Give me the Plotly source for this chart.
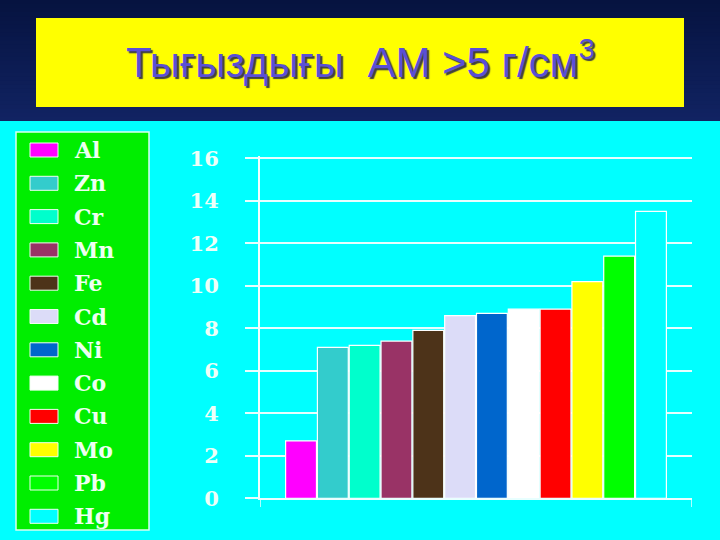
import plotly.graph_objects as go

# ---- data ----
elements = ["Al", "Zn", "Cr", "Mn", "Fe", "Cd", "Ni", "Co", "Cu", "Mo", "Pb", "Hg"]
density = [2.7, 7.1, 7.2, 7.4, 7.9, 8.6, 8.7, 8.9, 8.9, 10.2, 11.4, 13.5]
colors = ["#ff00ff", "#33cccc", "#00ffcc", "#993366", "#4d3319", "#dcdcf8",
          "#0066cc", "#ffffff", "#ff0000", "#ffff00", "#00ff00", "#00ffff"]
y_ticks = [0, 2, 4, 6, 8, 10, 12, 14, 16]
title_text = "Тығыздығы  АМ >5 г/см<sup>3</sup>"

W, H = 720, 540
def py(v):
    return 1 - v / H
def px(v):
    return v / W

x_pos = list(range(len(elements)))
pad = 0.79
x_range = [x_pos[0] - 0.5 - pad, x_pos[-1] + 0.5 + pad]

fig = go.Figure()
for xi, name, val, col in zip(x_pos, elements, density, colors):
    fig.add_trace(go.Bar(
        x=[xi], y=[val], name=name, marker=dict(color=col, line=dict(color="white", width=1.2)),
        width=0.97, showlegend=False, hovertext=name))

shapes = []
# navy header band (smooth vertical gradient; each strip runs to the band bottom)
band_h = 121
top_rgb, bot_rgb = (6, 19, 64), (17, 35, 98)
n = 30
for i in range(n):
    t = i / (n - 1)
    c = "rgb(%d,%d,%d)" % tuple(round(a + (b - a) * t) for a, b in zip(top_rgb, bot_rgb))
    shapes.append(dict(type="rect", xref="paper", yref="paper", layer="below",
                       x0=0, x1=1, y0=py(band_h), y1=py(band_h * i / n),
                       fillcolor=c, line=dict(width=0)))
# yellow title box
shapes.append(dict(type="rect", xref="paper", yref="paper", layer="below",
                   x0=px(36), x1=px(684), y0=py(107), y1=py(18),
                   fillcolor="#ffff00", line=dict(width=0)))
# legend box
shapes.append(dict(type="rect", xref="paper", yref="paper", layer="below",
                   x0=px(16), x1=px(149), y0=py(530), y1=py(132),
                   fillcolor="#00ee00", line=dict(color="#d8fff0", width=1.5)))

annotations = [dict(text=title_text, xref="paper", yref="paper", x=0.5, y=py(59),
                    xanchor="center", yanchor="middle", showarrow=False,
                    font=dict(family="Liberation Sans, Arial", size=42, color="#5a4fd6",
                              shadow="2px 2px 1px #404040"))]

leg_top, leg_step = 150, 33.3
for i, (name, col) in enumerate(zip(elements, colors)):
    cy = leg_top + i * leg_step
    shapes.append(dict(type="rect", xref="paper", yref="paper",
                       x0=px(30), x1=px(58), y0=py(cy + 7), y1=py(cy - 7),
                       fillcolor=col, line=dict(color="#f0fff0", width=1)))
    annotations.append(dict(text="<b>%s</b>" % name, xref="paper", yref="paper",
                            x=px(72), y=py(cy), xanchor="left", yanchor="middle",
                            showarrow=False,
                            font=dict(family="DejaVu Serif", size=22, color="#eefff2")))

# small end ticks below the floor line
for xv in x_range:
    shapes.append(dict(type="line", xref="x", yref="paper", x0=xv, x1=xv,
                       y0=py(498), y1=py(507), line=dict(color="#e8ffff", width=1.5)))

y_top_extra = 0.1
fig.update_layout(
    template="none",
    width=W, height=H, margin=dict(l=0, r=0, t=0, b=0, pad=0, autoexpand=False),
    paper_bgcolor="#00ffff", plot_bgcolor="#00ffff",
    bargap=0.03, shapes=shapes, annotations=annotations,
    xaxis=dict(domain=[px(260), px(692)], range=x_range, showticklabels=False,
               showgrid=False, zeroline=False, showline=True, linecolor="#e8ffff",
               linewidth=2, ticks="", automargin=False),
    yaxis=dict(domain=[py(498.3), py(158.3 - y_top_extra * 21.25)],
               range=[0, 16 + y_top_extra], tickvals=y_ticks,
               ticktext=["<b>%d</b>" % t for t in y_ticks],
               showgrid=True, gridcolor="#e6ffff", gridwidth=1.5,
               zeroline=False, showline=True, linecolor="#f0ffff", linewidth=2,
               ticks="outside", ticklen=13, tickwidth=1.5, tickcolor="#e6ffff",
               ticklabelstandoff=22, automargin=False,
               tickfont=dict(family="DejaVu Serif", size=21, color="#eefff8")),
    showlegend=False,
)

fig.write_html("out.html", config={"displayModeBar": False},
               post_script="document.body.style.margin='0';document.body.style.padding='0';")
